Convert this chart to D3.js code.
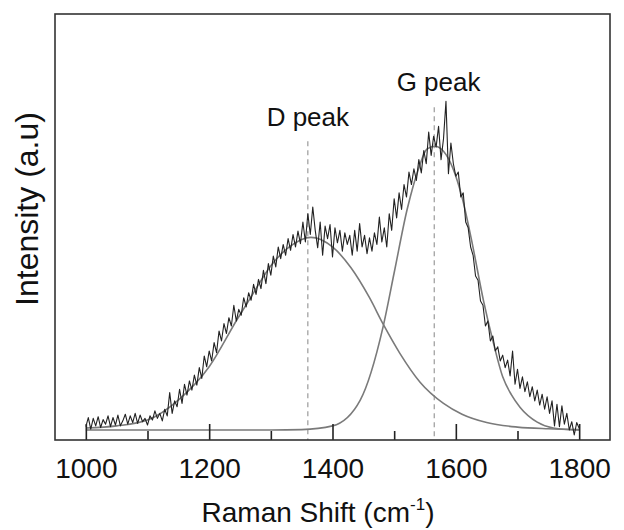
<!DOCTYPE html>
<html><head><meta charset="utf-8">
<script src="https://cdn.jsdelivr.net/npm/d3@7"></script>
<style>body{margin:0;background:#fff} svg{display:block}</style>
</head><body><svg id="c" width="624" height="530"></svg>
<script>
// Raman spectrum sampled every 4 cm-1 starting at 1000 cm-1
const ramanStart = 1000, ramanStep = 4;
const intensity = [
  8, 30, 2, 28, 10, 32, 6, 25, 14, 34,
  8, 30, 12, 36, 10, 22, 38, 14, 34, 18,
  40, 16, 36, 20, 28, 12, 34, 24, 46, 28,
  40, 22, 50, 34, 90, 40, 70, 56, 98, 64,
  110, 84, 118, 96, 132, 108, 150, 124, 178, 152,
  190, 166, 210, 186, 238, 214, 256, 232, 270, 250,
  300, 262, 290, 276, 318, 296, 330, 312, 350, 326,
  362, 340, 384, 352, 400, 372, 418, 392, 440, 412,
  446, 420, 460, 432, 470, 440, 478, 448, 500, 452,
  520, 470, 536, 480, 438, 500, 420, 490, 460, 494,
  416, 486, 450, 480, 430, 474, 446, 468, 420, 480,
  430, 496, 440, 468, 424, 462, 430, 474, 446, 512,
  452, 486, 440, 520, 480, 556, 510, 570, 530, 590,
  560, 620, 590, 628, 600, 650, 618, 672, 640, 716,
  660, 706, 680, 730, 650, 700, 790, 616, 690, 640,
  610, 620, 560, 570, 500, 486, 440, 420, 370, 360,
  310, 300, 250, 262, 214, 226, 190, 200, 166, 180,
  150, 168, 130, 190, 110, 146, 100, 128, 92, 116,
  80, 104, 70, 96, 60, 86, 50, 80, 40, 70,
  10, 62, 8, 58, 14, 40, 0, 20, -12, 18,
  4
];
// Fitted components [wavenumber, intensity]
const dFitX = [1000,1050,1100,1150,1200,1245,1270,1300,1330,1365,1400,1430,1460,1482,1509,1542,1580,1610,1650,1700,1750,1800];
const dFitY = [5,10,24,72,152,265,325,395,440,463,440,390,318,255,185,115,64,38,18,7,3,1];
const gFitX = [1000,1300,1350,1400,1445,1482,1500,1521,1540,1553,1566,1580,1595,1610,1625,1645,1660,1676,1690,1704,1732,1758,1800];
const gFitY = [0,0,1,10,72,248,378,530,630,675,682,670,630,560,460,310,215,128,85,55,19,5,0];
// Peak markers
const peakNames = ["D peak", "G peak"];
const peakCenters = [1360, 1565];
const peakLineTops = [694, 776];
const peakLabelX = [1360, 1572];
const peakLabelY = [730, 814];
// Axis ticks
const majorTicks = [1000, 1200, 1400, 1600, 1800];
const minorTicks = [1100, 1300, 1500, 1700];

const svg = d3.select("#c");
const font = "'Liberation Sans', Arial, Helvetica, sans-serif";
const x = d3.scaleLinear().domain([950, 1850]).range([55, 610]);
const y = d3.scaleLinear().domain([-24, 1000]).range([440, 14]);

const spectrum = intensity.map((v, i) => [ramanStart + i * ramanStep, v]);
const dFit = dFitX.map((w, i) => [w, dFitY[i]]);
const gFit = gFitX.map((w, i) => [w, gFitY[i]]);

// dashed peak lines
peakCenters.forEach((c, i) => {
  svg.append("line")
    .attr("x1", x(c)).attr("x2", x(c))
    .attr("y1", y(peakLineTops[i])).attr("y2", y.range()[0])
    .attr("stroke", "#9a9a9a").attr("stroke-width", 1.2)
    .attr("stroke-dasharray", "5,4");
});

const fitLine = d3.line().x(d => x(d[0])).y(d => y(d[1])).curve(d3.curveMonotoneX);
[dFit, gFit].forEach(f => {
  svg.append("path").datum(f).attr("d", fitLine)
    .attr("fill", "none").attr("stroke", "#7a7a7a").attr("stroke-width", 1.6);
});

const dataLine = d3.line().x(d => x(d[0])).y(d => y(d[1]));
svg.append("path").datum(spectrum).attr("d", dataLine)
  .attr("fill", "none").attr("stroke", "#222").attr("stroke-width", 1.1)
  .attr("stroke-linejoin", "round");

// axes
const gMajor = svg.append("g").attr("transform", `translate(0,${y.range()[0]})`)
  .call(d3.axisBottom(x).tickValues(majorTicks).tickFormat(d3.format("d"))
    .tickSizeInner(-16).tickSizeOuter(0).tickPadding(18));
gMajor.select(".domain").remove();
gMajor.selectAll("line").attr("stroke", "#222").attr("stroke-width", 1.6);
gMajor.selectAll("text").attr("font-family", font).attr("font-size", 28).attr("fill", "#111");

const gMinor = svg.append("g").attr("transform", `translate(0,${y.range()[0]})`)
  .call(d3.axisBottom(x).tickValues(minorTicks).tickFormat("")
    .tickSizeInner(-9).tickSizeOuter(0));
gMinor.select(".domain").remove();
gMinor.selectAll("line").attr("stroke", "#222").attr("stroke-width", 1.6);

// frame
svg.append("rect").attr("x", 55).attr("y", 14).attr("width", 555).attr("height", 426)
  .attr("fill", "none").attr("stroke", "#333").attr("stroke-width", 1.6);

// peak labels
peakNames.forEach((n, i) => {
  svg.append("text").attr("x", x(peakLabelX[i])).attr("y", y(peakLabelY[i]))
    .attr("text-anchor", "middle").attr("font-family", font).attr("font-size", 26)
    .attr("fill", "#111").text(n);
});

// axis titles
const xt = svg.append("text").attr("x", 318).attr("y", 522).attr("text-anchor", "middle")
  .attr("font-family", font).attr("font-size", 28).attr("fill", "#111");
xt.append("tspan").text("Raman Shift (cm");
xt.append("tspan").attr("font-size", 17).attr("dy", -12).text("-1");
xt.append("tspan").attr("dy", 12).text(")");

svg.append("text").attr("transform", "translate(38,209) rotate(-90)")
  .attr("text-anchor", "middle").attr("font-family", font).attr("font-size", 32)
  .attr("fill", "#111").text("Intensity (a.u)");
</script></body></html>
